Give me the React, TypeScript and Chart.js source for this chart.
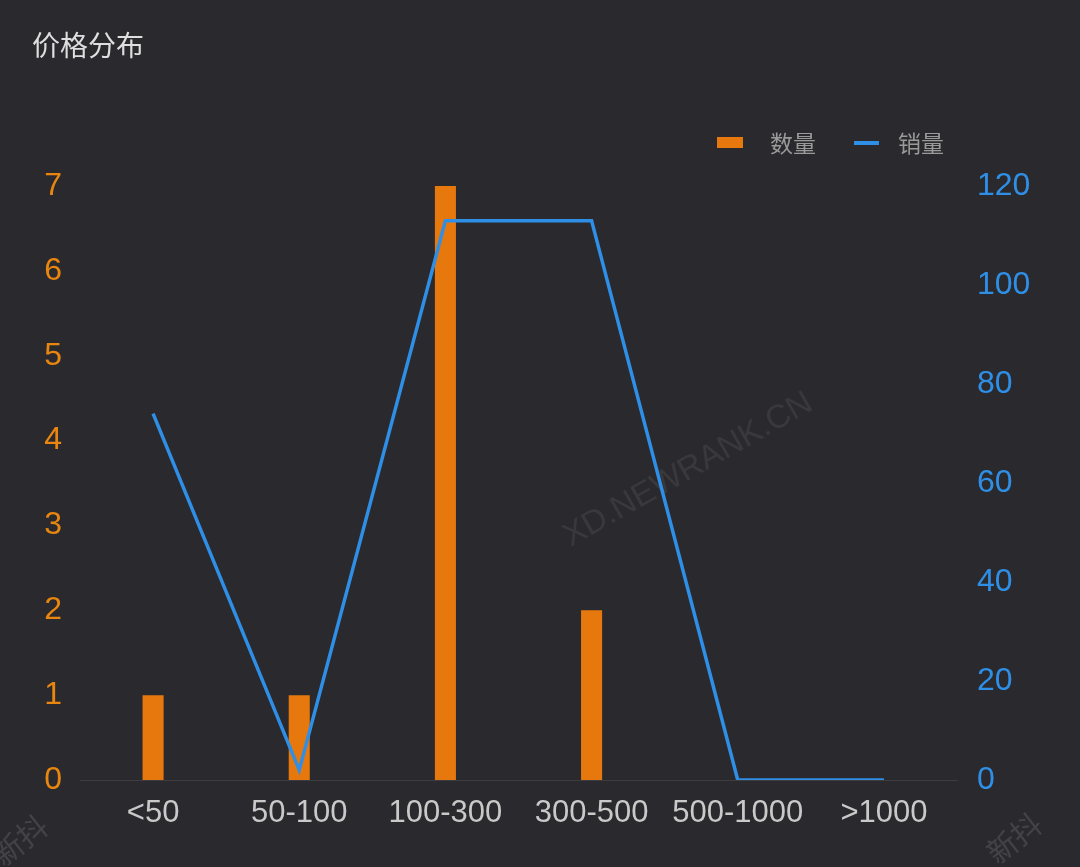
import React, { useEffect, useRef } from "react";
import { Chart, registerables } from "chart.js";

Chart.register(...registerables);

const categories = ["<50", "50-100", "100-300", "300-500", "500-1000", ">1000"];
const countValues = [1, 1, 7, 2, 0, 0];
const salesValues = [74, 2, 113, 113, 0, 0];
const leftTicks = [0, 1, 2, 3, 4, 5, 6, 7];
const rightTicks = [0, 20, 40, 60, 80, 100, 120];

const TITLE = "价格分布";
const WATERMARK = "XD.NEWRANK.CN";
const CORNER_MARK = "新抖";

const BG = "#2a2a2e";
const ORANGE = "#e6780e";
const ORANGE_TEXT = "#e8860f";
const BLUE = "#2f8fe6";
const FONT = "'Liberation Sans', 'Noto Sans CJK SC', sans-serif";
const CJK = "'Noto Sans CJK SC', 'Liberation Sans', sans-serif";

const decorPlugin = {
  id: "decor",
  beforeDatasetsDraw(chart: any) {
    const ctx = chart.ctx;
    ctx.save();
    ctx.fillStyle = "rgba(255,255,255,0.07)";
    ctx.font = `33px ${FONT}`;
    ctx.textAlign = "center";
    ctx.textBaseline = "middle";
    ctx.translate(688, 470);
    ctx.rotate(-29.5 * Math.PI / 180);
    ctx.fillText(WATERMARK, 0, 0);
    ctx.restore();

    ctx.save();
    ctx.fillStyle = "rgba(255,255,255,0.12)";
    ctx.font = `30px ${CJK}`;
    ctx.textAlign = "center";
    ctx.textBaseline = "middle";
    [[20, 840], [1014, 838]].forEach(([x, y]) => {
      ctx.save();
      ctx.translate(x, y);
      ctx.rotate(-38 * Math.PI / 180);
      ctx.fillText(CORNER_MARK, 0, 0);
      ctx.restore();
    });
    ctx.restore();
  },
  afterDraw(chart: any) {
    const ctx = chart.ctx;
    ctx.save();
    // title
    ctx.fillStyle = "#dedede";
    ctx.font = `28px ${CJK}`;
    ctx.textAlign = "left";
    ctx.textBaseline = "middle";
    ctx.fillText(TITLE, 32, 45);

    // legend
    const ds = chart.data.datasets;
    ctx.font = `23px ${CJK}`;
    ctx.fillStyle = ds[0].backgroundColor;
    ctx.fillRect(717, 137, 26, 11);
    ctx.fillStyle = "#9a9a9a";
    ctx.fillText(ds[0].label, 770, 143);
    ctx.strokeStyle = ds[1].borderColor;
    ctx.lineWidth = 4;
    ctx.lineCap = "butt";
    ctx.beginPath();
    ctx.moveTo(854, 143);
    ctx.lineTo(879, 143);
    ctx.stroke();
    ctx.fillStyle = "#9a9a9a";
    ctx.fillText(ds[1].label, 898, 143);
    ctx.restore();
  },
};

export default function App() {
  const ref = useRef<HTMLCanvasElement | null>(null);

  useEffect(() => {
    if (!ref.current) return;
    const chart = new Chart(ref.current, {
      type: "bar",
      data: {
        labels: categories,
        datasets: [
          {
            type: "bar",
            label: "数量",
            data: countValues,
            backgroundColor: ORANGE,
            yAxisID: "yLeft",
            barPercentage: 0.18,
            categoryPercentage: 0.8,
            order: 2,
          },
          {
            type: "line",
            label: "销量",
            data: salesValues,
            borderColor: BLUE,
            backgroundColor: BLUE,
            borderWidth: 3.5,
            pointRadius: 0,
            tension: 0,
            yAxisID: "yRight",
            order: 1,
          } as any,
        ],
      },
      options: {
        responsive: false,
        animation: false,
        devicePixelRatio: 1,
        layout: { padding: { top: 186, left: 0, right: 0, bottom: 0 } },
        plugins: {
          legend: { display: false },
          title: { display: false },
          tooltip: { enabled: false },
        },
        scales: {
          x: {
            grid: { display: false, drawTicks: false },
            border: { display: true, color: "#3c3c41", width: 1 },
            ticks: {
              color: "#c9c9c9",
              font: { size: 31, family: FONT },
              padding: 15,
              maxRotation: 0,
              autoSkip: false,
            },
            afterFit: (s: any) => {
              s.height = 87;
            },
          },
          yLeft: {
            type: "linear",
            position: "left",
            min: 0,
            max: leftTicks[leftTicks.length - 1],
            afterBuildTicks: (s: any) => {
              s.ticks = leftTicks.map((v) => ({ value: v }));
            },
            grid: { display: false, drawTicks: false },
            border: { display: false },
            ticks: {
              color: ORANGE_TEXT,
              font: { size: 32, family: FONT },
              padding: 18,
            },
            afterFit: (s: any) => {
              s.width = 80;
            },
          },
          yRight: {
            type: "linear",
            position: "right",
            min: 0,
            max: rightTicks[rightTicks.length - 1],
            afterBuildTicks: (s: any) => {
              s.ticks = rightTicks.map((v) => ({ value: v }));
            },
            grid: { display: false, drawTicks: false },
            border: { display: false },
            ticks: {
              color: BLUE,
              font: { size: 32, family: FONT },
              padding: 20,
            },
            afterFit: (s: any) => {
              s.width = 123;
            },
          },
        },
      },
      plugins: [decorPlugin],
    });
    return () => chart.destroy();
  }, []);

  return (
    <div
      style={{
        position: "fixed",
        left: 0,
        top: 0,
        width: 1080,
        height: 867,
        background: BG,
      }}
    >
      <canvas ref={ref} width={1080} height={867} style={{ display: "block" }} />
    </div>
  );
}
